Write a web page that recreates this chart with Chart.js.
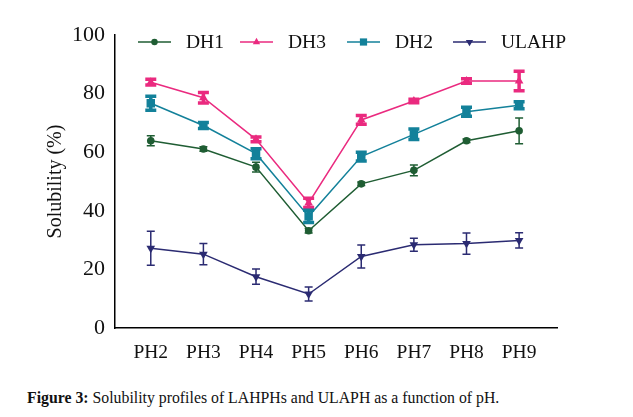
<!DOCTYPE html>
<html>
<head>
<meta charset="utf-8">
<script src="https://cdn.jsdelivr.net/npm/chart.js@4"></script>
<style>
  html, body { margin: 0; padding: 0; background: #fff; }
  #wrap { position: relative; width: 633px; height: 370px; }
  .caption {
    position: absolute; left: 27px; top: 389px;
    font-family: "Liberation Serif", serif; font-size: 15.8px; color: #111;
    white-space: nowrap;
  }
</style>
</head>
<body>
<div id="wrap"><canvas id="myChart" width="633" height="370"></canvas></div>
<div class="caption"><b>Figure 3:</b> Solubility profiles of LAHPHs and ULAPH as a function of pH.</div>
<script>
const categories = ["PH2", "PH3", "PH4", "PH5", "PH6", "PH7", "PH8", "PH9"];

const dh1 = [63.9, 61.1, 54.9, 33.2, 49.2, 53.8, 63.9, 67.3];
const dh1Err = [1.7, 0.8, 1.7, 0.8, 0.6, 1.8, 0.6, 4.4];
const dh3 = [83.9, 78.6, 64.4, 42.7, 71.0, 77.5, 84.3, 84.3];
const dh3Err = [1.0, 1.8, 0.8, 1.6, 1.5, 0.6, 0.8, 3.3];
const dh2 = [76.7, 69.1, 59.5, 38.1, 58.5, 66.1, 73.8, 76.0];
const dh2Err = [2.4, 1.0, 1.7, 2.1, 1.5, 1.8, 1.5, 1.2];
const ulahp = [27.2, 25.2, 17.5, 11.6, 24.4, 28.4, 28.8, 29.9];
const ulahpErr = [5.8, 3.6, 2.6, 2.4, 3.9, 2.2, 3.6, 2.6];

const serif = "Liberation Serif";

const toPoints = (vals) => vals.map((v, i) => ({ x: i, y: v }));

const series = [
  { label: "DH1", data: dh1, err: dh1Err, color: "#1f5d33", style: "circle", r: 3.8, barW: 1.5, cap: 4 },
  { label: "DH3", data: dh3, err: dh3Err, color: "#ea2a7f", style: "triangle", r: 5, barW: 3.5, cap: 5.5 },
  { label: "DH2", data: dh2, err: dh2Err, color: "#13819a", style: "rect", r: 6, barW: 3.5, cap: 5.5 },
  { label: "ULAHP", data: ulahp, err: ulahpErr, color: "#2b2b72", style: "triangle", rot: 180, r: 5, barW: 1.5, cap: 4 },
];

const errorBars = {
  id: "errorBars",
  afterDatasetsDraw(chart) {
    const { ctx, scales } = chart;
    chart.data.datasets.forEach((ds, di) => {
      const s = series[di];
      ctx.save();
      ctx.strokeStyle = s.color;
      ctx.lineWidth = s.barW;
      ctx.lineCap = "butt";
      ds.data.forEach((p, i) => {
        const x = scales.x.getPixelForValue(p.x);
        const yT = scales.y.getPixelForValue(p.y + s.err[i]);
        const yB = scales.y.getPixelForValue(p.y - s.err[i]);
        ctx.beginPath();
        ctx.moveTo(x, yT); ctx.lineTo(x, yB);
        ctx.moveTo(x - s.cap, yT); ctx.lineTo(x + s.cap, yT);
        ctx.moveTo(x - s.cap, yB); ctx.lineTo(x + s.cap, yB);
        ctx.stroke();
      });
      ctx.restore();
    });
  },
};

const lineLegend = {
  id: "lineLegend",
  afterDraw(chart) {
    const ctx = chart.ctx;
    ctx.save();
    ctx.font = '19.5px "Liberation Serif"';
    ctx.textBaseline = "middle";
    const starts = [138, 240, 347, 453];
    const y = 42;
    series.forEach((s, i) => {
      const x0 = starts[i];
      ctx.strokeStyle = s.color;
      ctx.lineWidth = 1.5;
      ctx.beginPath();
      ctx.moveTo(x0, y); ctx.lineTo(x0 + 33, y);
      ctx.stroke();
      ctx.fillStyle = s.color;
      Chart.helpers.drawPoint(ctx, { pointStyle: s.style, radius: s.r * 0.85, rotation: s.rot || 0, borderWidth: 0 }, x0 + 16.5, y);
      ctx.fillStyle = "#111";
      ctx.fillText(s.label, x0 + 48, y + 1);
    });
    ctx.restore();
  },
};

function draw() {
  new Chart(document.getElementById("myChart"), {
    type: "line",
    data: {
      datasets: series.map((s) => ({
        label: s.label,
        data: toPoints(s.data),
        borderColor: s.color,
        backgroundColor: s.color,
        borderWidth: 1.5,
        pointStyle: s.style,
        pointRotation: s.rot || 0,
        pointRadius: s.r,
        pointBorderWidth: 0,
        tension: 0,
      })),
    },
    options: {
      responsive: false,
      animation: false,
      layout: { padding: { top: 35, right: 76, left: 0, bottom: 0 } },
      plugins: { legend: { display: false }, tooltip: { enabled: false } },
      scales: {
        x: {
          type: "linear",
          min: -0.68,
          max: 7.72,
          afterBuildTicks: (scale) => {
            scale.ticks = categories.map((c, i) => ({ value: i }));
          },
          afterFit: (scale) => { scale.height = 42; },
          grid: { display: false, drawTicks: true, tickLength: 7, tickColor: "#000", tickWidth: 1.5 },
          border: { color: "#000", width: 1.5 },
          ticks: {
            color: "#111",
            font: { family: serif, size: 19.5 },
            padding: 6,
            maxRotation: 0,
            callback: (v) => categories[v],
          },
        },
        y: {
          min: 0,
          max: 100,
          afterFit: (scale) => { scale.width = 115; },
          grid: { display: false, drawTicks: true, tickLength: 7, tickColor: "#000", tickWidth: 1.5 },
          border: { color: "#000", width: 1.5 },
          ticks: { stepSize: 20, color: "#111", font: { family: serif, size: 22 }, padding: 3 },
          title: {
            display: true,
            text: "Solubility (%)",
            color: "#111",
            font: { family: serif, size: 20 },
            padding: { top: 44, bottom: 0 },
          },
        },
      },
    },
    plugins: [errorBars, lineLegend],
  });
}

Promise.all([
  document.fonts.load('19.5px "Liberation Serif"'),
  document.fonts.load('22px "Liberation Serif"'),
  document.fonts.load('bold 16px "Liberation Serif"'),
]).then(draw, draw);
</script>
</body>
</html>
